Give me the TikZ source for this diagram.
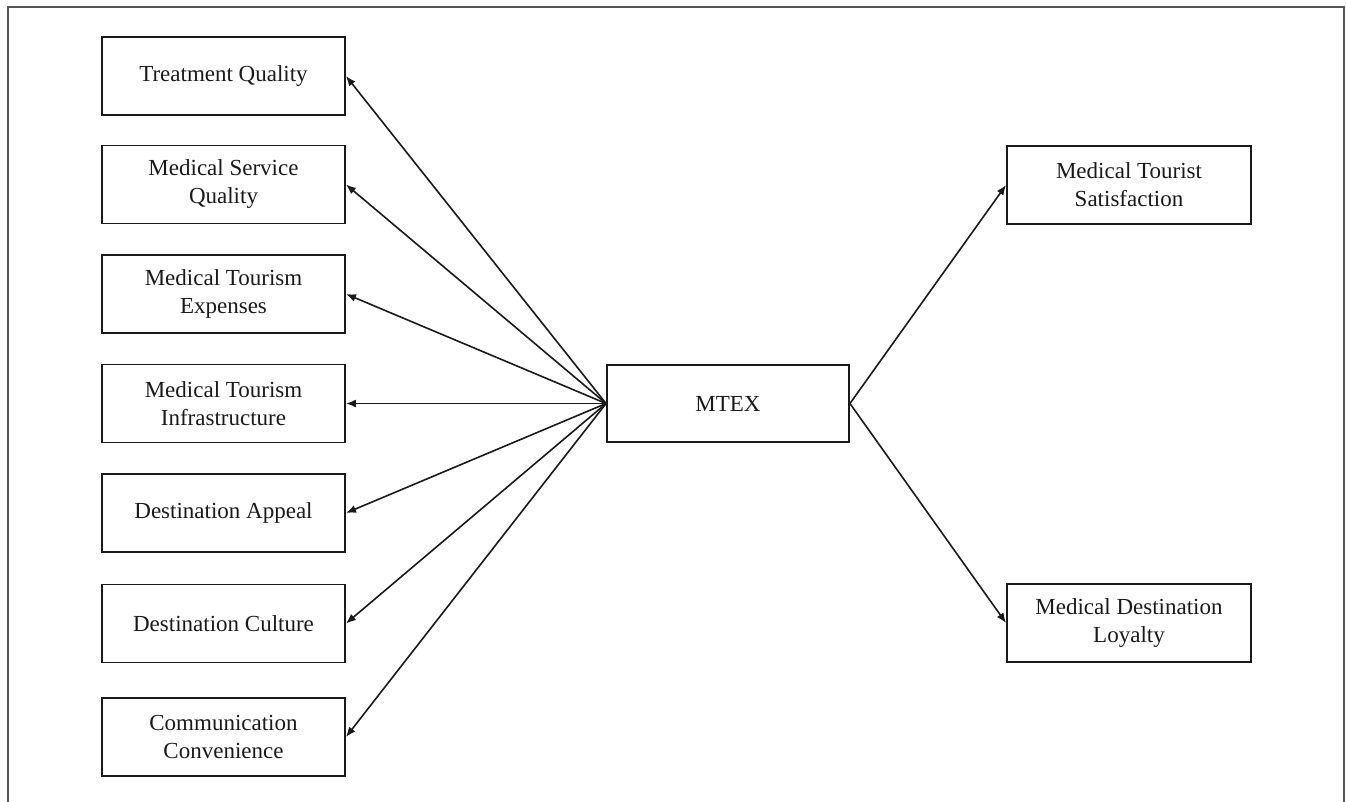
\documentclass[tikz,border=0pt]{standalone}
\usepackage{fontspec}
\setmainfont{Liberation Serif}
\usepackage{xcolor}
\usepackage{tikz}
\usetikzlibrary{arrows.meta}
\definecolor{framegray}{HTML}{555555}
\definecolor{inkblack}{HTML}{1A1A1A}

\tikzset{
  factorbox/.style={draw=inkblack, line width=1.9pt, minimum width=243pt, minimum height=78pt,
    inner sep=0pt, align=center, text=inkblack, font=\fontsize{23}{28}\selectfont},
  linkarrow/.style={draw=inkblack, line width=1.6pt, -{Latex[length=10pt, width=8pt]}}
}

\begin{document}
\begin{tikzpicture}[x=1pt, y=-1pt]
    \useasboundingbox (0,0) rectangle (1346,802);
    % outer frame, open at the bottom
    \draw[framegray, line width=1.6pt] (8,802) -- (8,7) -- (1344,7) -- (1344,802);

    % determinants
    \node[factorbox] (treat) at (223.5,76) {Treatment Quality};
    \node[factorbox] (service) at (223.5,184.5) {Medical Service\\Quality};
    \node[factorbox] (expense) at (223.5,294) {Medical Tourism\\Expenses};
    \node[factorbox] (infra) at (223.5,403.5) {Medical Tourism\\Infrastructure};
    \node[factorbox] (appeal) at (223.5,513) {Destination Appeal};
    \node[factorbox] (culture) at (223.5,623.5) {Destination Culture};
    \node[factorbox] (comm) at (223.5,737) {Communication\\Convenience};

    % central construct and outcomes
    \node[factorbox, minimum width=242pt, minimum height=77pt] (mtex) at (728,403.5) {MTEX};
    \node[factorbox, minimum width=244pt] (satis) at (1129,185) {Medical Tourist\\Satisfaction};
    \node[factorbox, minimum width=244pt] (loyal) at (1129,623) {Medical Destination\\Loyalty};

    \draw[linkarrow] (mtex.west) -- (treat.east);
    \draw[linkarrow] (mtex.west) -- (service.east);
    \draw[linkarrow] (mtex.west) -- (expense.east);
    \draw[linkarrow] (mtex.west) -- (infra.east);
    \draw[linkarrow] (mtex.west) -- (appeal.east);
    \draw[linkarrow] (mtex.west) -- (culture.east);
    \draw[linkarrow] (mtex.west) -- (comm.east);
    \draw[linkarrow] (mtex.east) -- (satis.west);
    \draw[linkarrow] (mtex.east) -- (loyal.west);
  \end{tikzpicture}
\end{document}
